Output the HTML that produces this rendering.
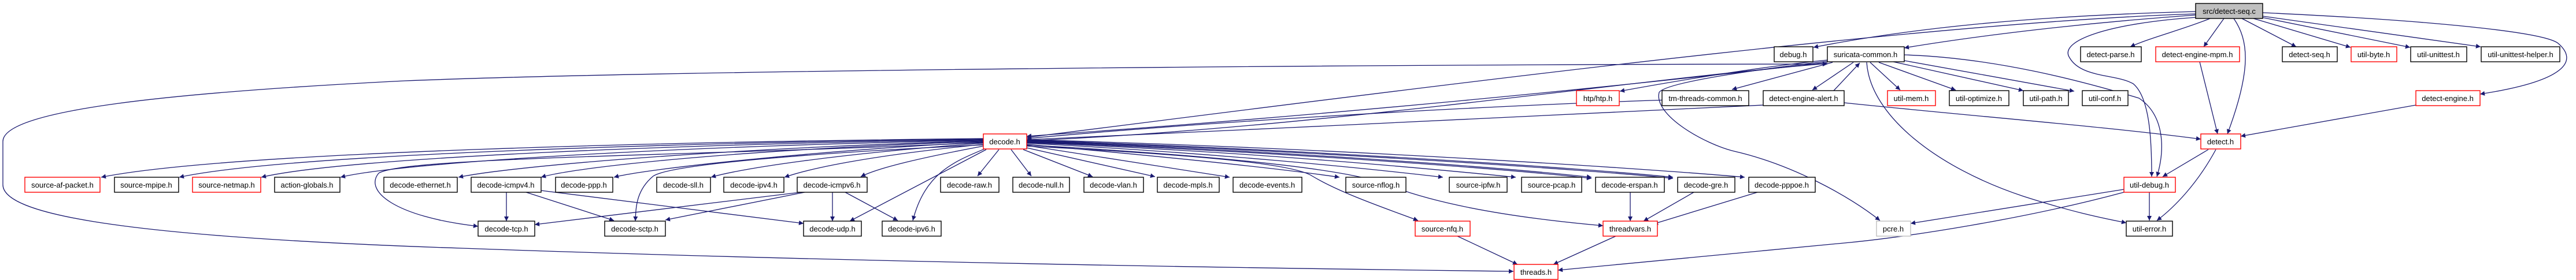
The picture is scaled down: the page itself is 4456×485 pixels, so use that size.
<!DOCTYPE html>
<html><head><meta charset="utf-8"><style>
html,body{margin:0;padding:0;background:#fff;}
svg{display:block;}
text{font-family:"Liberation Sans",sans-serif;font-size:13px;fill:#000;}
.e{fill:none;stroke:#191970;stroke-width:1.3;marker-end:url(#a);}
.n{fill:#fff;stroke:#000;stroke-width:1.4;}
.r{fill:#fff;stroke:#ff0000;stroke-width:1.4;}
</style></head><body>
<svg width="4456" height="485" viewBox="0 0 4456 485" xmlns="http://www.w3.org/2000/svg">
<defs>
<marker id="a" viewBox="0 0 10 10" refX="10" refY="5" markerUnits="userSpaceOnUse" markerWidth="11" markerHeight="8" orient="auto"><path d="M0,0 L10,5 L0,10 z" fill="#191970"/></marker>
<marker id="b" viewBox="0 0 10 10" refX="10" refY="5" markerUnits="userSpaceOnUse" markerWidth="11" markerHeight="8" orient="auto-start-reverse"><path d="M0,0 L10,5 L0,10 z" fill="#191970"/></marker>
</defs>
<g>
<!-- seq.c edges -->
<path class="e" d="M3798,20 C3500,28 3300,50 3137,82"/>
<path class="e" d="M3798,26 C3600,40 3420,62 3294,83"/>
<path class="e" d="M3798,24 C3300,40 2400,160 1776,238"/>
<path class="e" d="M3823,32 C3780,50 3720,65 3685,81"/>
<path class="e" d="M3847,32 L3812,81"/>
<path class="e" d="M3864,32 C3890,70 3895,120 3853,232"/>
<path class="e" d="M3878,32 L3972,81"/>
<path class="e" d="M3898,32 L4066,82"/>
<path class="e" d="M3912,30 L4169,82"/>
<path class="e" d="M3914,28 L4291,81"/>
<path class="e" d="M3914,22 C4200,35 4400,55 4425,75 C4460,105 4440,140 4290,163"/>
<path class="e" d="M3800,30 C3650,40 3560,70 3580,100 C3600,135 3660,128 3690,145 C3720,170 3722,250 3722,306"/>
<!-- suricata-common edges -->
<path class="e" d="M3294,95 C3450,100 3600,140 3700,170 C3745,200 3745,260 3731,306"/>
<path class="e" d="M3235,108 L3287,156"/>
<path class="e" d="M3250,108 L3383,156"/>
<path class="e" d="M3275,107 L3500,157"/>
<path class="e" d="M3294,105 L3588,158"/>
<path class="e" d="M3206,108 L3135,156"/>
<path class="e" d="M3172,157 L3217,109"/>
<path class="e" d="M3170,108 L2996,155"/>
<path class="e" d="M3161,104 C3050,115 2900,140 2802,158"/>
<path class="e" d="M3161,106 C3000,125 2880,145 2870,160 C2860,200 2950,250 3000,262 C3100,285 3200,340 3252,382"/>
<path class="e" d="M3229,108 C3235,200 3350,290 3500,340 C3600,372 3650,380 3678,386"/>
<path class="e" d="M3161,108 C2800,150 2300,200 1776,236"/>
<path class="e" d="M1776,244 C2300,220 2800,140 3161,110"/>
<path class="e" d="M2990,170 C2600,180 2100,210 1776,240"/>
<path fill="none" stroke="#191970" stroke-width="1.3" marker-start="url(#b)" marker-end="url(#a)" d="M3161,111 C2500,111 1200,120 700,140 C300,160 5,190 5,245 L5,320 C5,370 200,410 800,430 C1500,455 2200,465 2618,470"/>
<!-- alert -->
<path class="e" d="M3050,182 C2700,195 2200,225 1776,242"/>
<path class="e" d="M3190,178 C3400,200 3650,220 3807,241"/>
<!-- detect chain -->
<path class="e" d="M3805,107 L3836,232"/>
<path class="e" d="M4179,182 L3876,236"/>
<path class="e" d="M3820,259 L3741,306"/>
<path class="e" d="M3833,259 C3800,320 3760,360 3731,382"/>
<path class="e" d="M3718,333 L3718,382"/>
<path class="e" d="M3674,328 L3305,387"/>
<path class="e" d="M3674,333 C3500,380 3300,410 3200,420 C3000,440 2800,458 2695,468"/>
<!-- decode.h fan left -->
<path class="e" d="M1701,240 C1200,245 400,262 175,307"/>
<path class="e" d="M1701,241 C1200,247 500,266 310,307"/>
<path class="e" d="M1701,242 C1200,249 600,272 452,307"/>
<path class="e" d="M1701,243 C1200,252 700,280 589,307"/>
<path class="e" d="M1701,244 C1300,255 900,285 793,307"/>
<path class="e" d="M1701,245 C1300,258 1000,288 936,307"/>
<path class="e" d="M1701,246 C1400,262 1120,292 1062,307"/>
<path class="e" d="M1701,248 C1450,266 1280,292 1230,307"/>
<path class="e" d="M1701,250 C1500,270 1400,292 1357,307"/>
<path class="e" d="M1701,253 C1600,272 1520,290 1489,306"/>
<path class="e" d="M1701,247 C1200,270 700,272 655,300 C630,330 680,375 827,392"/>
<path class="e" d="M1701,251 C1400,265 1160,285 1130,305 C1100,330 1100,360 1099,383"/>
<path class="e" d="M1703,258 C1650,280 1600,300 1579,382"/>
<path class="e" d="M1706,259 L1470,383"/>
<!-- decode.h fan right -->
<path class="e" d="M1728,259 L1691,305"/>
<path class="e" d="M1749,259 L1784,305"/>
<path class="e" d="M1770,259 L1890,306"/>
<path class="e" d="M1776,256 L1998,306"/>
<path class="e" d="M1776,252 L2127,307"/>
<path class="e" d="M1776,250 C2000,270 2200,290 2317,307"/>
<path class="e" d="M1776,248 C2100,265 2350,290 2496,307"/>
<path class="e" d="M1776,247 C2150,262 2450,290 2622,307"/>
<path class="e" d="M1776,245 C2200,260 2600,290 2753,307"/>
<path class="e" d="M1776,246 C2200,262 2600,292 2753,309"/>
<path class="e" d="M1776,243 C2250,258 2750,292 2894,307"/>
<path class="e" d="M1776,244 C2250,260 2750,294 2894,309"/>
<path class="e" d="M1776,242 C2300,256 2850,292 3018,307"/>
<path class="e" d="M1776,253 C2100,270 2240,285 2270,305 C2320,335 2400,362 2453,382"/>
<path class="e" d="M1776,251 C2200,275 2350,300 2400,320 C2500,360 2650,380 2773,391"/>
<!-- lower -->
<path class="e" d="M876,333 L876,383"/>
<path class="e" d="M910,333 L1062,382"/>
<path class="e" d="M936,330 L1390,387"/>
<path class="e" d="M1385,333 L925,389"/>
<path class="e" d="M1392,333 L1151,381"/>
<path class="e" d="M1440,333 L1440,383"/>
<path class="e" d="M1462,333 L1553,382"/>
<path class="e" d="M2820,333 L2820,383"/>
<path class="e" d="M2930,333 L2843,383"/>
<path class="e" d="M3040,333 L2860,388"/>
<path class="e" d="M2521,409 L2625,458"/>
<path class="e" d="M2795,409 L2687,458"/>
</g>
<g>
<rect x="3798" y="6" width="116" height="26" fill="#bfbfbf" stroke="#000" stroke-width="1.4"/><text x="3856" y="24" text-anchor="middle">src/detect-seq.c</text>
<rect class="n" x="3069" y="81" width="67" height="26"/><text x="3102" y="99" text-anchor="middle">debug.h</text>
<rect class="n" x="3161" y="81" width="133" height="26"/><text x="3227" y="99" text-anchor="middle">suricata-common.h</text>
<rect class="n" x="3599" y="81" width="105" height="26"/><text x="3651" y="99" text-anchor="middle">detect-parse.h</text>
<rect class="r" x="3729" y="81" width="145" height="26"/><text x="3801" y="99" text-anchor="middle">detect-engine-mpm.h</text>
<rect class="n" x="3948" y="81" width="95" height="26"/><text x="3995" y="99" text-anchor="middle">detect-seq.h</text>
<rect class="r" x="4067" y="81" width="79" height="26"/><text x="4106" y="99" text-anchor="middle">util-byte.h</text>
<rect class="n" x="4170" y="81" width="97" height="26"/><text x="4218" y="99" text-anchor="middle">util-unittest.h</text>
<rect class="n" x="4292" y="81" width="136" height="26"/><text x="4360" y="99" text-anchor="middle">util-unittest-helper.h</text>
<rect class="r" x="2727" y="157" width="74" height="26"/><text x="2764" y="175" text-anchor="middle">htp/htp.h</text>
<rect class="n" x="2875" y="157" width="150" height="26"/><text x="2950" y="175" text-anchor="middle">tm-threads-common.h</text>
<rect class="n" x="3050" y="157" width="140" height="26"/><text x="3120" y="175" text-anchor="middle">detect-engine-alert.h</text>
<rect class="r" x="3265" y="157" width="83" height="26"/><text x="3306" y="175" text-anchor="middle">util-mem.h</text>
<rect class="n" x="3372" y="157" width="103" height="26"/><text x="3423" y="175" text-anchor="middle">util-optimize.h</text>
<rect class="n" x="3500" y="157" width="78" height="26"/><text x="3539" y="175" text-anchor="middle">util-path.h</text>
<rect class="n" x="3602" y="157" width="79" height="26"/><text x="3641" y="175" text-anchor="middle">util-conf.h</text>
<rect class="r" x="4179" y="157" width="111" height="26"/><text x="4234" y="175" text-anchor="middle">detect-engine.h</text>
<rect class="r" x="1701" y="232" width="75" height="26"/><text x="1738" y="250" text-anchor="middle">decode.h</text>
<rect class="r" x="3807" y="232" width="69" height="26"/><text x="3841" y="250" text-anchor="middle">detect.h</text>
<rect class="r" x="43" y="307" width="130" height="26"/><text x="108" y="325" text-anchor="middle">source-af-packet.h</text>
<rect class="n" x="198" y="307" width="111" height="26"/><text x="253" y="325" text-anchor="middle">source-mpipe.h</text>
<rect class="r" x="333" y="307" width="118" height="26"/><text x="392" y="325" text-anchor="middle">source-netmap.h</text>
<rect class="n" x="475" y="307" width="113" height="26"/><text x="531" y="325" text-anchor="middle">action-globals.h</text>
<rect class="n" x="664" y="307" width="127" height="26"/><text x="727" y="325" text-anchor="middle">decode-ethernet.h</text>
<rect class="n" x="815" y="307" width="121" height="26"/><text x="875" y="325" text-anchor="middle">decode-icmpv4.h</text>
<rect class="n" x="961" y="307" width="99" height="26"/><text x="1010" y="325" text-anchor="middle">decode-ppp.h</text>
<rect class="n" x="1136" y="307" width="93" height="26"/><text x="1182" y="325" text-anchor="middle">decode-sll.h</text>
<rect class="n" x="1252" y="307" width="104" height="26"/><text x="1304" y="325" text-anchor="middle">decode-ipv4.h</text>
<rect class="n" x="1379" y="307" width="121" height="26"/><text x="1439" y="325" text-anchor="middle">decode-icmpv6.h</text>
<rect class="n" x="1627" y="307" width="101" height="26"/><text x="1677" y="325" text-anchor="middle">decode-raw.h</text>
<rect class="n" x="1752" y="307" width="98" height="26"/><text x="1801" y="325" text-anchor="middle">decode-null.h</text>
<rect class="n" x="1875" y="307" width="103" height="26"/><text x="1926" y="325" text-anchor="middle">decode-vlan.h</text>
<rect class="n" x="2002" y="307" width="107" height="26"/><text x="2055" y="325" text-anchor="middle">decode-mpls.h</text>
<rect class="n" x="2133" y="307" width="119" height="26"/><text x="2192" y="325" text-anchor="middle">decode-events.h</text>
<rect class="n" x="2328" y="307" width="104" height="26"/><text x="2380" y="325" text-anchor="middle">source-nflog.h</text>
<rect class="n" x="2507" y="307" width="100" height="26"/><text x="2557" y="325" text-anchor="middle">source-ipfw.h</text>
<rect class="n" x="2632" y="307" width="104" height="26"/><text x="2684" y="325" text-anchor="middle">source-pcap.h</text>
<rect class="n" x="2760" y="307" width="119" height="26"/><text x="2819" y="325" text-anchor="middle">decode-erspan.h</text>
<rect class="n" x="2902" y="307" width="99" height="26"/><text x="2951" y="325" text-anchor="middle">decode-gre.h</text>
<rect class="n" x="3025" y="307" width="115" height="26"/><text x="3082" y="325" text-anchor="middle">decode-pppoe.h</text>
<rect class="r" x="3674" y="307" width="89" height="26"/><text x="3718" y="325" text-anchor="middle">util-debug.h</text>
<rect class="n" x="827" y="383" width="98" height="26"/><text x="876" y="401" text-anchor="middle">decode-tcp.h</text>
<rect class="n" x="1046" y="383" width="105" height="26"/><text x="1098" y="401" text-anchor="middle">decode-sctp.h</text>
<rect class="n" x="1390" y="383" width="100" height="26"/><text x="1440" y="401" text-anchor="middle">decode-udp.h</text>
<rect class="n" x="1526" y="383" width="102" height="26"/><text x="1577" y="401" text-anchor="middle">decode-ipv6.h</text>
<rect class="r" x="2448" y="383" width="95" height="26"/><text x="2495" y="401" text-anchor="middle">source-nfq.h</text>
<rect class="r" x="2773" y="383" width="94" height="26"/><text x="2820" y="401" text-anchor="middle">threadvars.h</text>
<rect x="3246" y="383" width="59" height="26" fill="#fff" stroke="#bfbfbf" stroke-width="1.4"/><text x="3275" y="401" text-anchor="middle">pcre.h</text>
<rect class="n" x="3678" y="383" width="80" height="26"/><text x="3718" y="401" text-anchor="middle">util-error.h</text>
<rect class="r" x="2619" y="458" width="76" height="26"/><text x="2657" y="476" text-anchor="middle">threads.h</text>
</g>
</svg>
</body></html>
